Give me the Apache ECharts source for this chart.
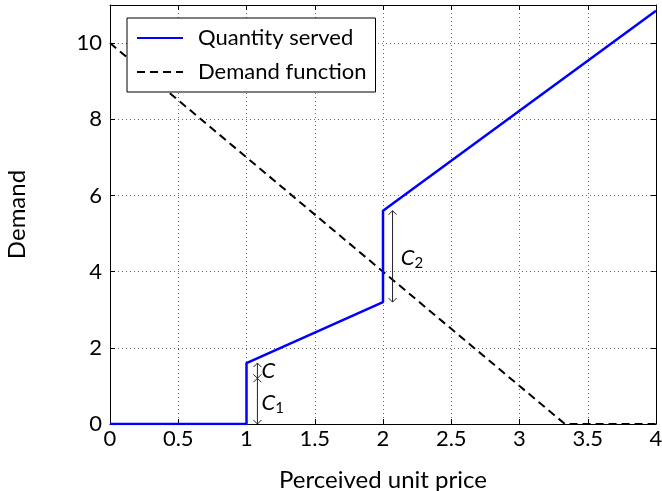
<!DOCTYPE html>
<html><head><meta charset="utf-8">
<script src="https://cdn.jsdelivr.net/npm/echarts@6/dist/echarts.min.js"></script>
<style>html,body{margin:0;padding:0;background:#fff}#c{width:662px;height:491px}</style>
</head><body><div id="c"></div>
<script>
const quantityX = [0, 1, 1, 2, 2, 4];
const quantityY = [0, 0, 1.6, 3.2, 5.6, 10.85];
const demandX = [0, 3.333, 4];
const demandY = [10, 0, 0];
const arrowX = [1.08, 1.08, 2.07];
const arrowFrom = [1.6, 1.2, 5.6];
const arrowTo = [1.2, 0, 3.2];
const arrowLabels = ['{i|C}', '{i|C}{s|1}', '{i|C}{s|2}'];
const labelX = [1.11, 1.11, 2.13];
const labelY = [1.4, 0.55, 4.35];
const xTicks = [0, 0.5, 1, 1.5, 2, 2.5, 3, 3.5, 4];
const yTicks = [0, 2, 4, 6, 8, 10];

const FONT = 'Lato, "Noto Sans", sans-serif';
const chart = echarts.init(document.getElementById('c'));
const axisCommon = {
  axisLine: {show: true, onZero: false, lineStyle: {color: '#000', width: 1}},
  axisTick: {show: true, inside: true, length: 5, lineStyle: {color: '#000'}},
  minorTick: {show: false},
};
const rich = {
  i: {fontStyle: 'italic', fontSize: 22, fontFamily: FONT, color: '#000'},
  s: {fontSize: 15, fontFamily: FONT, color: '#000', verticalAlign: 'bottom', padding: [10, 0, 0, 0]}
};
chart.setOption({
  animation: false,
  backgroundColor: '#fff',
  grid: {left: 110, right: 6, top: 5, bottom: 67, show: false, outerBoundsMode: 'none', containLabel: false},
  legend: {
    left: 127, top: 18, orient: 'vertical',
    backgroundColor: '#fff', borderColor: '#000', borderWidth: 1, borderRadius: 0,
    padding: [9, 9, 9, 9], itemGap: 12, itemWidth: 46, itemHeight: 14,
    itemStyle: {opacity: 0},
    textStyle: {fontSize: 22, fontFamily: FONT, color: '#000', padding: [0, 0, 0, 10]},
    data: ['Quantity served', 'Demand function']
  },
  xAxis: [
    Object.assign({type: 'value', min: 0, max: 4, interval: 0.5, position: 'bottom',
      name: 'Perceived unit price', nameLocation: 'middle', nameGap: 44,
      nameTextStyle: {fontSize: 24, fontFamily: FONT, color: '#000'},
      axisLabel: {fontSize: 22, fontFamily: FONT, color: '#000', margin: 4,
        formatter: v => xTicks.includes(v) ? String(v) : ''},
      splitLine: {show: true, lineStyle: {color: '#666', type: [1, 3], width: 1}}}, axisCommon),
    Object.assign({type: 'value', min: 0, max: 4, interval: 0.5, position: 'top',
      axisLabel: {show: false}, splitLine: {show: false}}, axisCommon)
  ],
  yAxis: [
    Object.assign({type: 'value', min: 0, max: 11, interval: 2, position: 'left',
      name: 'Demand', nameLocation: 'middle', nameGap: 81, nameRotate: 90,
      nameTextStyle: {fontSize: 24, fontFamily: FONT, color: '#000'},
      axisLabel: {fontSize: 22, fontFamily: FONT, color: '#000', margin: 8,
        formatter: v => yTicks.includes(v) ? String(v) : ''},
      splitLine: {show: true, lineStyle: {color: '#666', type: [1, 3], width: 1}}}, axisCommon),
    Object.assign({type: 'value', min: 0, max: 11, interval: 2, position: 'right',
      axisLabel: {show: false}, splitLine: {show: false}}, axisCommon)
  ],
  series: [
    {
      name: 'Demand function', type: 'line', showSymbol: false, symbol: 'none',
      data: demandX.map((x, i) => [x, demandY[i]]),
      lineStyle: {color: '#000', width: 2, type: [8, 5]}, itemStyle: {color: '#000'}, z: 3
    },
    {
      name: 'Quantity served', type: 'line', showSymbol: false, symbol: 'none',
      data: quantityX.map((x, i) => [x, quantityY[i]]),
      lineStyle: {color: '#0000ff', width: 2.5}, itemStyle: {color: '#0000ff'}, z: 4
    },
    {
      type: 'custom', silent: true, z: 5,
      data: arrowX.map((x, i) => [x, arrowFrom[i], arrowTo[i], labelX[i], labelY[i], i]),
      renderItem: function (params, api) {
        const x = api.value(0), y1 = api.value(1), y2 = api.value(2);
        const p1 = api.coord([x, y1]), p2 = api.coord([x, y2]);
        const lp = api.coord([api.value(3), api.value(4)]);
        const idx = api.value(5);
        const st = {stroke: '#222', lineWidth: 1, fill: null};
        const dir = p2[1] > p1[1] ? 1 : -1;
        const a = 4, b = 4;
        return {type: 'group', children: [
          {type: 'line', shape: {x1: p1[0], y1: p1[1], x2: p2[0], y2: p2[1]}, style: st},
          {type: 'polyline', shape: {points: [[p1[0] - a, p1[1] + dir * b], [p1[0], p1[1]], [p1[0] + a, p1[1] + dir * b]]}, style: st},
          {type: 'polyline', shape: {points: [[p2[0] - a, p2[1] - dir * b], [p2[0], p2[1]], [p2[0] + a, p2[1] - dir * b]]}, style: st},
          {type: 'text', x: lp[0], y: lp[1], style: {text: arrowLabels[idx], rich: rich, verticalAlign: 'middle', align: 'left'}}
        ]};
      }
    }
  ]
});
</script></body></html>
